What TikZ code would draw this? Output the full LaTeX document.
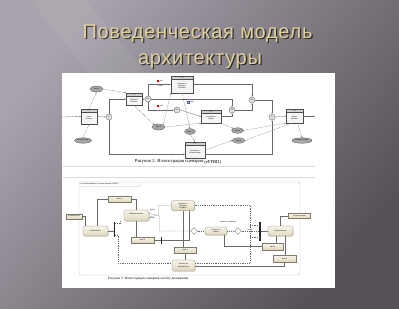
\documentclass[tikz,border=0pt]{standalone}
\usepackage{fontspec}
\setmainfont{Liberation Sans}
\newfontfamily\capfont{Liberation Serif}
\newfontfamily\titlefont[LetterSpace=3.5]{Liberation Sans}
\usetikzlibrary{shapes.geometric,arrows.meta,shadows}
\definecolor{bgL}{RGB}{168,163,172}
\definecolor{bgR}{RGB}{86,81,88}
\definecolor{gold}{RGB}{224,208,152}
\definecolor{cream1}{RGB}{248,245,232}
\definecolor{cream2}{RGB}{222,214,192}
\definecolor{actline}{RGB}{130,122,105}
\definecolor{lnc}{RGB}{105,105,105}
\begin{document}
\begin{tikzpicture}[x=1pt,y=-1pt,
  tiny/.style={font=\fontsize{1.8}{2.1}\selectfont, inner sep=0pt, align=center},
  fn/.style 2 args={draw=gray!60!black, fill=gray!8, line width=0.25pt, inner sep=0pt,
    path picture={
      \fill[gray!35] (path picture bounding box.north west) rectangle ([yshift=-3.5pt]path picture bounding box.north east);
      \draw[line width=0.2pt, gray!60!black] ([yshift=-3.5pt]path picture bounding box.north west) -- ([yshift=-3.5pt]path picture bounding box.north east);
      \node[tiny] at ([yshift=-1.75pt]path picture bounding box.north) {#1};
      \node[tiny] at ([yshift=-1.75pt]path picture bounding box.center) {#2};}},
  dataE/.style={ellipse, draw=gray!60!black, fill=gray!70, line width=0.25pt, inner sep=0pt, font=\fontsize{1.8}{2.1}\selectfont},
  gate/.style={circle, draw=gray!60!black, fill=gray!22, line width=0.25pt, minimum size=6pt, inner sep=0pt, font=\fontsize{1.8}{2}\selectfont},
  flow/.style={draw=lnc, line width=0.3pt, -{Stealth[length=1.5pt,width=1.2pt]}},
  dflow/.style={flow, dash pattern=on 1pt off 0.8pt},
  act/.style={rounded corners=1.5pt, draw=actline, top color=cream1, bottom color=cream2, line width=0.3pt,
    inner sep=0pt, align=center, font=\fontsize{1.8}{2.1}\selectfont,
    drop shadow={shadow xshift=0.5pt, shadow yshift=-0.5pt, opacity=0.3}},
  obj/.style={draw=actline, top color=cream1, bottom color=cream2, line width=0.25pt, inner sep=0pt,
    font=\fontsize{1.8}{2.1}\selectfont,
    drop shadow={shadow xshift=0.4pt, shadow yshift=-0.4pt, opacity=0.3}},
  bar/.style={fill=black!85, inner sep=0pt, minimum width=1.4pt},
  dm/.style={diamond, draw=actline, fill=white, line width=0.3pt, minimum size=7pt, inner sep=0pt},
  aflow/.style={draw=lnc, line width=0.3pt},
  adflow/.style={aflow, dash pattern=on 1pt off 0.8pt},
  ttl/.style={font=\titlefont\fontsize{20}{24}\selectfont, anchor=base, inner sep=0pt}
]
\useasboundingbox (0,0) rectangle (399,308);
% background
\shade[top color=bgL, bottom color=bgR, shading angle=50] (0,0) rectangle (399,308);
\fill[white, opacity=0.06] (30,0) -- (85,0) -- (210,150) -- (150,150) -- cycle;

% title
\node[ttl, text=black, opacity=0.65] (t1s) at (198.8,39.3) {Поведенческая модель};
\node[ttl, text=gold] (t1) at (197.5,38) {Поведенческая модель};
\node[ttl, text=black, opacity=0.65] (t2s) at (201.3,65.3) {архитектуры};
\node[ttl, text=gold] (t2) at (200,64) {архитектуры};

% white panel
\fill[white] (62,73) rectangle (335,288);

% ===== top diagram (eFFBD) =====
\node[fn={F. 1}{Input\\Function}, minimum width=16pt, minimum height=15pt] (f1) at (89,116.5) {};
\node[fn={F. 2}{Multicast\\Function}, minimum width=16pt, minimum height=12pt] (f2) at (134,99) {};
\node[fn={F. 4}{Function on\\Multicast\\Condition}, minimum width=22pt, minimum height=17pt] (f4) at (182,84.5) {};
\node[fn={F. 5}{Function on\\Datum}, minimum width=20pt, minimum height=13pt] (f5) at (211,116.5) {};
\node[fn={F. 3}{Function on\\External Input}, minimum width=20pt, minimum height=16pt] (f3) at (195,150) {};
\node[fn={F. 6}{Output\\Function}, minimum width=17pt, minimum height=14pt] (f6) at (294.5,116) {};

\node[gate] (c1) at (109,117) {\&};
\node[gate] (c2) at (148,99) {OR};
\node[gate] (c3) at (177,110) {OR};
\node[gate] (c4) at (232,110) {OR};
\node[gate] (c5) at (252,100) {OR};
\node[gate] (c6) at (272,117) {\&};

\node[dataE, minimum width=13pt, minimum height=6pt] (d1) at (96.5,89) {Data 1};
\node[dataE, minimum width=17pt, minimum height=5.5pt] (ei) at (83,140.5) {External Input};
\node[dataE, minimum width=13pt, minimum height=6pt] (d2) at (158.5,127) {Data 2};
\node[dataE, minimum width=11pt, minimum height=6pt] (d3) at (190,131.5) {Data 3};
\node[dataE, minimum width=12pt, minimum height=5.5pt] (d4) at (237.5,130.5) {Data 4};
\node[dataE, minimum width=13pt, minimum height=5.5pt] (d5) at (238.5,140.5) {Data 5};
\node[dataE, minimum width=20pt, minimum height=5.5pt] (eo) at (302,140.5) {External Output};

\node[fill=red!80!black, minimum size=2pt, inner sep=0pt] (r1) at (158,81) {};
\node[tiny, anchor=west] (r1t) at (159.5,81) {out1};
\node[tiny] (r1u) at (160,85.5) {ex-out};
\node[fill=red!80!black, minimum size=2pt, inner sep=0pt] (r2) at (158,106) {};
\node[tiny, anchor=west] (r2t) at (159.5,106) {out2};
\node[tiny] (r2u) at (160,110.5) {ex-out};
\node[draw=blue!70, fill=blue!10, minimum size=2pt, inner sep=0pt, line width=0.2pt] (bq) at (188,102) {};
\node[tiny, anchor=west] (bqt) at (189.5,102) {Data};

\coordinate (in0) at (62,117);
\coordinate (out0) at (315,116);
\draw[flow] (in0) -- (f1.west);
\draw[flow] (f1.east) -- (c1.west);
\draw[flow] (c1.north) |- (f2.west);
\draw[flow] (c1.south) |- ([yshift=-4pt]f3.west);
\draw[flow] ([yshift=-4pt]f3.east) -| (c6.south);
\draw[flow] (f2.east) -- (c2.west);
\draw[flow] (c2.north) |- (f4.west);
\draw[flow] (c2.south) |- (c3.west);
\draw[flow] (c2.east) -| (c4.north);
\draw[flow] (c3.east) -- (f5.west);
\draw[flow] (f5.east) -| (c4.south);
\draw[flow] (c4.east) -| (c5.south);
\draw[flow] (f4.east) -| (c5.north);
\draw[flow] (c5.east) -| (c6.north);
\draw[flow] (c6.east) -- (f6.west);
\draw[flow] (f6.east) -- (out0);

\draw[dflow] (f1.north) -- (d1.south);
\draw[dflow] (d1.east) -- (f2.north west);
\draw[dflow] (ei.north) -- (f1.south);
\draw[dflow] (f2.south) -- (d2.north west);
\draw[dflow] (d2.north east) -- (f4.south west);
\draw[dflow] (d2.east) -- (f5.south west);
\draw[dflow] (f4.south) -- (d3.north);
\draw[dflow] (d3.south) -- (f3.north);
\draw[dflow] (f5.south east) -- (d4.north west);
\draw[dflow] (d4.east) -- (f6.south west);
\draw[dflow] (f3.east) -- (d5.west);
\draw[dflow] (d5.east) -- ([xshift=-3pt]f6.south);
\draw[dflow] ([xshift=3pt]f6.south) -- (eo.north);

\node[font=\capfont\fontsize{4.6}{5}\selectfont, inner sep=0pt] (cap2) at (178,162) {Рисунок 2. Иллюстрация сценария \raisebox{-0.8pt}{(eFFBD)}};

\draw[gray!30, line width=0.4pt] (63,166.5) -- (315,166.5);
\draw[gray!30, line width=0.4pt] (63,177) -- (315,177);

% ===== bottom diagram (activity) =====
\draw[gray!55, line width=0.4pt, rounded corners=2pt] (79,182) rectangle (300,275);
\node[tiny, anchor=north west] (flabel) at (80.5,182.8) {act Activity diagram [ scenario diagram eFFBD ]};
\draw[gray!55, line width=0.2pt] (79,186.3) -- (139,186.3) -- (141,184.5) -- (141,182);

\node[act, minimum width=25pt, minimum height=10pt] (ainit) at (95.5,231) {Initial function};
\node[act, minimum width=25pt, minimum height=11pt] (amc) at (136.5,215.5) {Multicast function\\[0.3pt]};
\node[act, minimum width=23pt, minimum height=10pt] (af4) at (183,205.5) {Function on\\Multicast\\condition};
\node[act, minimum width=22pt, minimum height=8pt] (af5) at (216,231) {Function on\\datum};
\node[act, minimum width=25pt, minimum height=10pt] (aout) at (280.5,231) {Output function};
\node[act, minimum width=23pt, minimum height=11pt] (af3) at (183.5,265.5) {Function on\\external input};

\node[obj, minimum width=23pt, minimum height=6pt] (o1) at (119.5,199) {data 1};
\node[obj, minimum width=23pt, minimum height=6pt] (o2) at (142.5,240) {data 2};
\node[obj, minimum width=22pt, minimum height=6pt] (o3) at (185,250) {data 3};
\node[obj, minimum width=21pt, minimum height=7pt] (o5) at (272.5,246.5) {data 5};
\node[obj, minimum width=23pt, minimum height=7pt] (o6) at (284.5,258.5) {data 6};
\node[obj, minimum width=16pt, minimum height=5pt] (pin) at (74,216.5) {External input};
\node[obj, minimum width=22pt, minimum height=5pt] (pout) at (299.5,216) {External output};

\node[bar, minimum height=15pt] (fork1) at (114.5,229) {};
\node[bar, minimum height=7pt] (join2) at (161.5,240) {};
\node[bar, minimum height=19pt] (join3) at (260,231) {};

\node[dm] (dm1) at (194,231) {};
\node[dm] (dm2) at (238,231) {};
\node[tiny] (g1) at (228,222) {[multicast condition]};
\node[tiny] (g2) at (250,230) {[else]};
\node[tiny, anchor=west] (g3) at (150,210.5) {[out1]};
\node[tiny, anchor=west] (g4) at (150,218.5) {[out2]};

\draw[aflow] (pin.east) -| ([xshift=-10pt]ainit.north);
\draw[aflow] ([xshift=1.5pt]ainit.north) |- (o1.west);
\draw[aflow] (o1.east) -| (amc.north);
\draw[aflow] (ainit.east) -- (fork1.west |- ainit.east);
\draw[adflow] ([yshift=6pt]fork1.east) -| ([xshift=-4pt]amc.south west) ;
\draw[adflow] ([yshift=-6pt]fork1.east) -- ++(3,0) |- ([yshift=2.5pt]af3.west);
\draw[aflow] (amc.south) -- (amc.south |- o2.north);
\draw[aflow] (o2.east) -- (join2.west);
\draw[aflow] (join2.east) -| ([xshift=6pt]af4.south);
\draw[aflow] (af4.south) -- (af4.south |- o3.north);
\draw[aflow] (o3.south) -- (o3.south |- af3.north);
\draw[adflow] ([yshift=-2pt]amc.east) -- ++(9,-3) |- (af4.west);
\draw[adflow] ([yshift=2pt]amc.east) -- ++(10,2) |- (dm1.west);
\draw[adflow] (dm1.east) -- (af5.west);
\draw[adflow] (af5.east) -- (dm2.west);
\draw[adflow] (dm2.east) -- (join3.west |- dm2.east);
\draw[adflow] (af4.east) -- ++(55.5,0) |- ([yshift=2.5pt]af3.east);
\draw[adflow] (250,225.5) -- (join3.west |- 250,225.5);
\draw[adflow] (250,237) -- (join3.west |- 250,237);
\draw[aflow] (join3.east |- aout.west) -- (aout.west);
\draw[aflow] (aout.north) |- (pout.west);
\draw[aflow] ([xshift=8pt]af5.south) |- (o5.west);
\draw[aflow] ([xshift=-4pt]aout.south) -- ([xshift=-4pt]aout.south |- o5.north);
\draw[aflow] ([xshift=5pt]aout.south) -- ([xshift=5pt]aout.south |- o6.north);
\draw[aflow] (o6.south) |- ([yshift=-1pt]af3.east);

\node[font=\capfont\fontsize{3.4}{4}\selectfont, inner sep=0pt, anchor=west] (cap3) at (108,279) {Рисунок 3. Иллюстрация сценария( activity диаграмма)};
\end{tikzpicture}
\end{document}
